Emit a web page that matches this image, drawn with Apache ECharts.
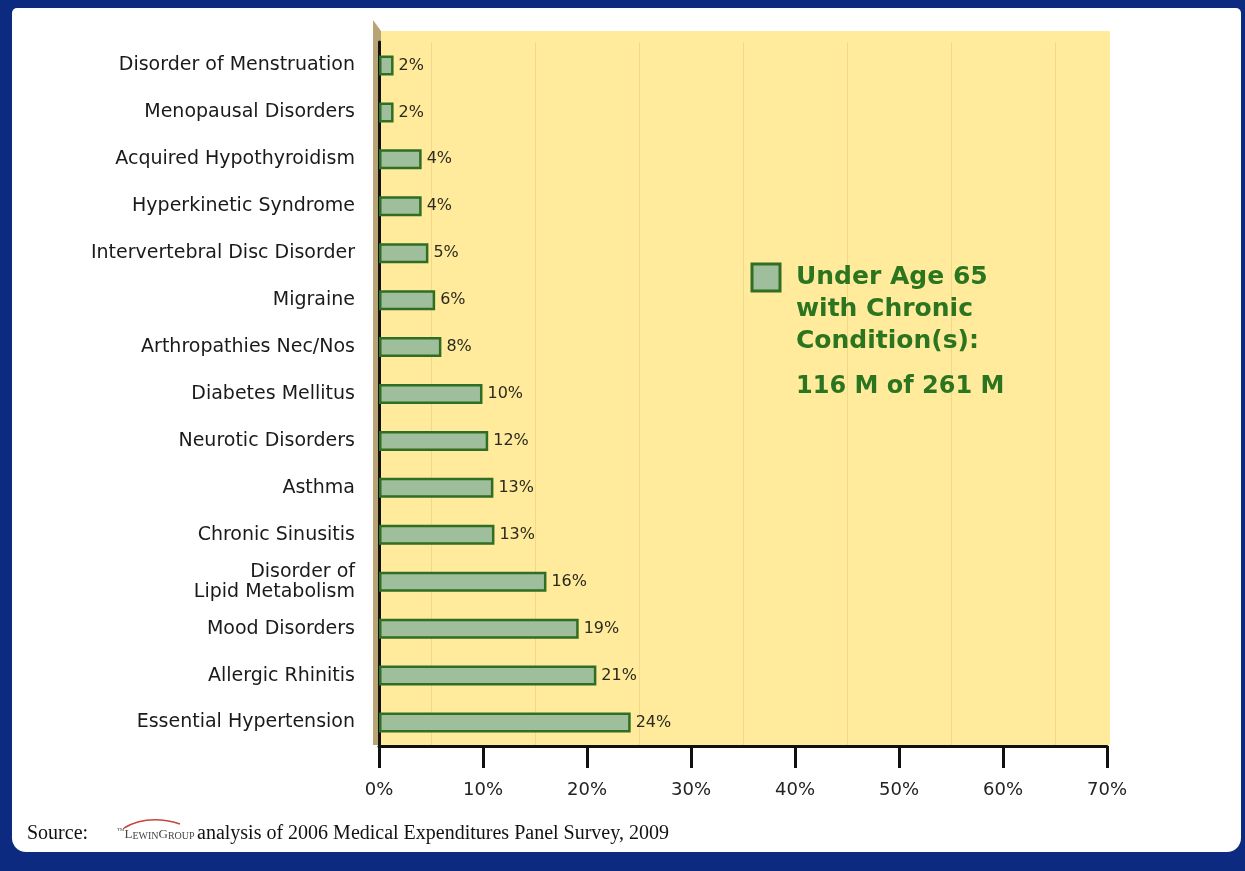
<!DOCTYPE html>
<html>
<head>
<meta charset="utf-8">
<script src="https://cdn.jsdelivr.net/npm/echarts@6/dist/echarts.min.js"></script>
<style>
html, body { margin: 0; padding: 0; }
#chart { width: 1245px; height: 871px; }
</style>
</head>
<body>
<div id="chart"></div>
<script>
// categories, top to bottom
var categories = ['Disorder of Menstruation', 'Menopausal Disorders', 'Acquired Hypothyroidism',
    'Hyperkinetic Syndrome', 'Intervertebral Disc Disorder', 'Migraine', 'Arthropathies Nec/Nos',
    'Diabetes Mellitus', 'Neurotic Disorders', 'Asthma', 'Chronic Sinusitis',
    'Disorder of\nLipid Metabolism', 'Mood Disorders', 'Allergic Rhinitis', 'Essential Hypertension'];
// bar lengths as drawn in the picture (%)
var barValues = [1.4, 1.4, 4.1, 4.1, 4.75, 5.4, 6.0, 9.95, 10.5, 11.0, 11.1, 16.1, 19.2, 20.9, 24.2];
// value labels as printed next to the bars
var barLabels = ['2%', '2%', '4%', '4%', '5%', '6%', '8%', '10%', '12%', '13%', '13%', '16%', '19%', '21%', '24%'];
var legendLines = ['Under Age 65', 'with Chronic', 'Condition(s):'];
var legendTotal = '116 M of 261 M';

var navy = '#0b2a80';
var barFill = '#9fbe9b';
var barEdge = '#2f6e23';
var green = '#2b7520';

var chart = echarts.init(document.getElementById('chart'));

var graphics = [
    // white panel inside the blue frame
    { type: 'rect', z: -10, shape: { x: 12, y: 8, width: 1229, height: 844, r: [5, 5, 14, 14] }, style: { fill: '#fff' } },
    // side wall and back wall
    { type: 'polygon', z: -9, shape: { points: [[373, 20], [381, 31], [381, 745], [373, 745]] }, style: { fill: '#b9a476' } },
    { type: 'rect', z: -9, shape: { x: 381, y: 31, width: 729, height: 714 }, style: { fill: '#ffeb9b' } },
    // legend
    { type: 'rect', z: 5, shape: { x: 752, y: 264, width: 28, height: 27 }, style: { fill: barFill, stroke: barEdge, lineWidth: 3 } }
];
legendLines.forEach(function (t, i) {
    graphics.push({ type: 'text', z: 5, x: 796, y: 277 + i * 32,
        style: { text: t, fill: green, font: 'bold 25px "DejaVu Sans"', verticalAlign: 'middle' } });
});
graphics.push({ type: 'text', z: 5, x: 796, y: 387,
    style: { text: legendTotal, fill: green, font: 'bold 24px "DejaVu Sans"', verticalAlign: 'middle' } });
// source line
graphics.push(
    { type: 'text', x: 27, y: 834, style: { text: 'Source:', fill: '#111', font: '20px "Liberation Serif"', verticalAlign: 'middle' } },
    { type: 'text', x: 117, y: 834, style: {
        text: '{t|TM}{c|L}{s|EWIN}{c|G}{s|ROUP}', fill: '#444', verticalAlign: 'middle',
        rich: {
            t: { fontFamily: 'Liberation Serif', fontSize: 5, lineHeight: 14, verticalAlign: 'top' },
            c: { fontFamily: 'Liberation Serif', fontSize: 13, lineHeight: 14, verticalAlign: 'bottom' },
            s: { fontFamily: 'Liberation Serif', fontSize: 10, lineHeight: 12, verticalAlign: 'bottom' }
        } } },
    { type: 'bezierCurve', shape: { x1: 124, y1: 828, x2: 180, y2: 824, cpx1: 148, cpy1: 814 },
        style: { stroke: '#c8453a', lineWidth: 1.5, fill: null } },
    { type: 'text', x: 197, y: 834, style: { text: 'analysis of 2006 Medical Expenditures Panel Survey, 2009',
        fill: '#111', font: '20px "Liberation Serif"', verticalAlign: 'middle' } }
);

var option = {
    backgroundColor: navy,
    animation: false,
    grid: { left: 379, right: 138, top: 42, bottom: 125 },
    xAxis: {
        type: 'value',
        min: 0,
        max: 70,
        interval: 10,
        axisLine: { show: true, lineStyle: { color: '#111', width: 3 } },
        axisTick: { show: true, length: 22, lineStyle: { color: '#111', width: 3 } },
        axisLabel: { formatter: '{value}%', margin: 35, fontFamily: 'DejaVu Sans', fontSize: 18, color: '#222' },
        splitLine: { show: false },
        minorTick: { show: false, splitNumber: 2 },
        minorSplitLine: { show: true, lineStyle: { color: '#f0da8a', width: 1 } }
    },
    yAxis: {
        type: 'category',
        data: categories,
        inverse: true,
        axisLine: { show: true, lineStyle: { color: '#111', width: 3 } },
        axisTick: { show: false },
        axisLabel: { margin: 24, fontFamily: 'DejaVu Sans', fontSize: 19, lineHeight: 20, color: '#1a1a1a' }
    },
    series: [{
        name: 'Under Age 65 with Chronic Condition(s)',
        type: 'bar',
        data: barValues,
        barWidth: 20,
        itemStyle: { color: barFill, borderColor: barEdge, borderWidth: 2.5 },
        label: {
            show: true,
            position: 'right',
            distance: 5,
            formatter: function (p) { return barLabels[p.dataIndex]; },
            fontFamily: 'DejaVu Sans',
            fontSize: 16,
            color: '#2a2a1e'
        }
    }],
    graphic: graphics
};
chart.setOption(option);
</script>
</body>
</html>
